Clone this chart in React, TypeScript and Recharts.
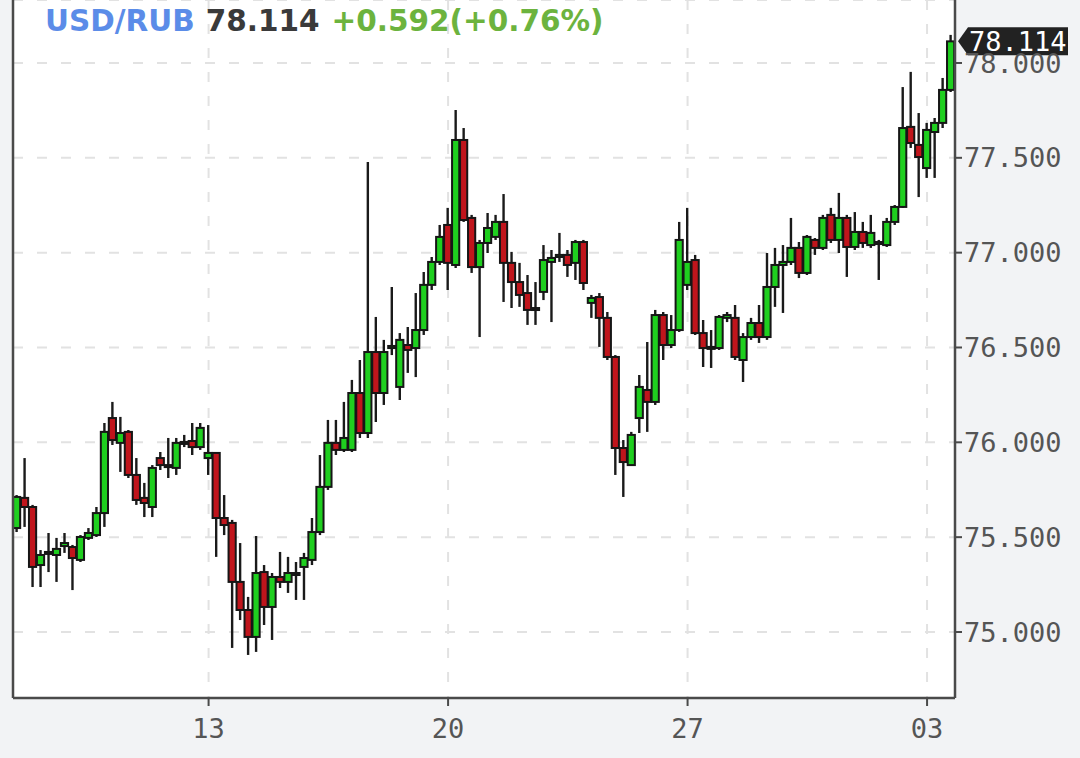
import { ComposedChart, Bar, XAxis, YAxis, CartesianGrid, ReferenceLine } from 'recharts';

// 4h candles, USD/RUB
const open = [
  75.548, 75.707, 75.659, 75.353, 75.417, 75.406, 75.453, 75.448, 75.380, 75.496,
  75.511, 75.627, 76.128, 75.997, 76.055, 75.828, 75.707, 75.659, 75.917, 75.880,
  75.865, 75.997, 76.007, 75.975, 75.917, 75.944, 75.601, 75.575, 75.264, 75.116,
  74.974, 75.316, 75.132, 75.290, 75.264, 75.306, 75.343, 75.380, 75.527, 75.765,
  75.997, 75.960, 75.960, 76.260, 76.049, 76.476, 76.260, 76.497, 76.292, 76.513,
  76.497, 76.592, 76.830, 76.951, 77.146, 76.935, 77.594, 77.183, 76.924, 77.051,
  77.083, 77.162, 76.946, 76.845, 76.787, 76.708, 76.793, 76.951, 76.977, 76.988,
  76.946, 77.056, 76.735, 76.766, 76.656, 76.450, 75.970, 75.880, 76.128, 76.276,
  76.213, 76.671, 76.513, 76.592, 76.830, 76.961, 76.576, 76.503, 76.497, 76.656,
  76.656, 76.434, 76.555, 76.629, 76.555, 76.819, 76.935, 76.951, 77.025, 76.893,
  77.067, 77.025, 77.199, 77.067, 77.183, 77.030, 77.109, 77.040, 77.051, 77.040,
  77.162, 77.241, 77.663, 77.568, 77.446, 77.636, 77.684, 77.858,
];
const high = [
  75.722, 75.917, 75.670, 75.432, 75.522, 75.496, 75.522, 75.459, 75.511, 75.548,
  75.659, 76.102, 76.213, 76.134, 76.065, 75.917, 75.786, 75.880, 75.949, 76.023,
  76.023, 76.039, 76.102, 76.102, 76.091, 75.949, 75.722, 75.591, 75.469, 75.185,
  75.506, 75.353, 75.311, 75.422, 75.396, 75.369, 75.417, 75.601, 75.933, 76.118,
  76.118, 76.213, 76.329, 76.434, 77.478, 76.661, 76.540, 76.819, 76.576, 76.608,
  76.787, 76.898, 76.977, 77.146, 77.236, 77.752, 77.657, 77.199, 77.067, 77.209,
  77.199, 77.309, 77.004, 76.946, 76.882, 76.845, 77.040, 77.014, 77.104, 77.014,
  77.067, 77.067, 76.777, 76.787, 76.687, 76.460, 76.012, 76.055, 76.355, 76.529,
  76.698, 76.687, 76.671, 77.162, 77.236, 76.988, 76.645, 76.592, 76.671, 76.687,
  76.724, 76.576, 76.656, 76.724, 76.998, 77.025, 77.040, 77.183, 77.056, 77.093,
  77.077, 77.199, 77.236, 77.315, 77.199, 77.214, 77.162, 77.199, 77.067, 77.183,
  77.251, 77.873, 77.953, 77.736, 77.684, 77.710, 77.921, 78.148,
];
const low = [
  75.527, 75.554, 75.237, 75.237, 75.316, 75.264, 75.417, 75.221, 75.369, 75.485,
  75.501, 75.554, 75.986, 75.844, 75.812, 75.670, 75.606, 75.606, 75.854, 75.812,
  75.828, 75.975, 75.933, 75.960, 75.828, 75.396, 75.511, 74.916, 75.063, 74.879,
  74.895, 75.037, 74.958, 75.232, 75.206, 75.169, 75.169, 75.353, 75.511, 75.749,
  75.933, 75.949, 75.949, 76.023, 76.023, 76.107, 76.197, 76.460, 76.223, 76.366,
  76.344, 76.566, 76.803, 76.935, 76.803, 76.919, 77.162, 76.893, 76.555, 76.998,
  77.067, 76.740, 76.708, 76.714, 76.619, 76.619, 76.750, 76.634, 76.951, 76.872,
  76.856, 76.803, 76.656, 76.503, 76.434, 75.828, 75.712, 75.880, 76.049, 76.055,
  76.197, 76.434, 76.497, 76.582, 76.803, 76.566, 76.397, 76.392, 76.487, 76.634,
  76.434, 76.318, 76.540, 76.524, 76.540, 76.714, 76.682, 76.935, 76.866, 76.882,
  76.988, 77.014, 77.051, 76.998, 76.872, 77.014, 77.025, 77.025, 76.856, 77.030,
  77.146, 77.236, 77.552, 77.293, 77.394, 77.394, 77.657, 77.847,
];
const close = [
  75.712, 75.659, 75.343, 75.406, 75.422, 75.438, 75.469, 75.390, 75.501, 75.522,
  75.627, 76.055, 76.012, 76.049, 75.828, 75.696, 75.680, 75.865, 75.880, 75.870,
  75.997, 76.002, 75.975, 76.076, 75.944, 75.601, 75.564, 75.264, 75.116, 74.974,
  75.311, 75.132, 75.290, 75.264, 75.311, 75.311, 75.390, 75.527, 75.765, 75.997,
  75.960, 76.023, 76.260, 76.049, 76.476, 76.260, 76.476, 76.508, 76.540, 76.487,
  76.592, 76.830, 76.951, 77.083, 76.946, 77.594, 77.172, 76.924, 77.051, 77.130,
  77.162, 76.946, 76.845, 76.777, 76.698, 76.703, 76.961, 76.972, 76.988, 76.935,
  77.056, 76.840, 76.761, 76.656, 76.450, 75.970, 75.896, 76.039, 76.292, 76.213,
  76.671, 76.513, 76.592, 77.067, 76.951, 76.576, 76.497, 76.497, 76.661, 76.671,
  76.450, 76.555, 76.629, 76.555, 76.819, 76.935, 76.951, 77.025, 76.893, 77.083,
  77.025, 77.183, 77.067, 77.183, 77.030, 77.109, 77.051, 77.104, 77.056, 77.162,
  77.241, 77.657, 77.578, 77.504, 77.647, 77.684, 77.858, 78.114,
];

const dayTicks = [24, 54, 84, 114];
const dayLabels = ['13', '20', '27', '03'];
const priceTicks = [75, 75.5, 76, 76.5, 77, 77.5, 78];

const data = open.map((o, i) => ({
  i,
  o,
  h: high[i],
  l: low[i],
  c: close[i],
  range: [low[i], high[i]],
}));

const last = close[close.length - 1];
const MONO = '"DejaVu Sans Mono", monospace';
const AXIS = '#4a4a4a';

function Candle(props: any) {
  const { x, y, width, height, payload } = props;
  if (!payload) return null;
  const top = Math.min(y, y + height);
  const hh = Math.abs(height);
  const span = payload.h - payload.l || 1;
  const py = (v: number) => top + ((payload.h - v) / span) * hh;
  const cx = x + width / 2;
  const yo = py(payload.o);
  const yc = py(payload.c);
  const bt = Math.min(yo, yc);
  const bh = Math.max(Math.abs(yo - yc), 2);
  const up = payload.c >= payload.o;
  return (
    <g>
      <line x1={cx} x2={cx} y1={top} y2={top + hh} stroke="#1a1a1a" strokeWidth={2.4} />
      <rect
        x={x}
        y={bt}
        width={width}
        height={bh}
        fill={up ? '#1fcf1f' : '#c0151c'}
        stroke="#161616"
        strokeWidth={2}
      />
    </g>
  );
}

function PriceTag(props: any) {
  const vb = props.viewBox;
  if (!vb) return null;
  const x0 = vb.x + vb.width + 3;
  const cy = vb.y;
  return (
    <g>
      <polygon
        points={`${x0},${cy} ${x0 + 10},${cy - 14} ${x0 + 110},${cy - 14} ${x0 + 110},${cy + 14} ${x0 + 10},${cy + 14}`}
        fill="#222"
      />
      <text x={x0 + 11} y={cy + 10} fill="#fff" fontFamily={MONO} fontSize={27}>
        {last.toFixed(3)}
      </text>
    </g>
  );
}

export default function App() {
  return (
    <div
      style={{
        position: 'absolute',
        left: 0,
        top: 0,
        width: 1080,
        height: 758,
        background: '#f2f3f5',
        overflow: 'hidden',
      }}
    >
      <ComposedChart width={1080} height={758} data={data} margin={{ top: 0, right: 0, bottom: 0, left: 12 }}>
        <CartesianGrid
          yAxisId="r"
          fill="#fff"
          stroke="#e2e2e2"
          strokeWidth={2}
          strokeDasharray="10 14"
        />
        <XAxis
          dataKey="i"
          type="category"
          ticks={dayTicks}
          interval={0}
          height={60}
          tickFormatter={(v: number) => dayLabels[dayTicks.indexOf(v)] ?? ''}
          axisLine={{ stroke: AXIS, strokeWidth: 2.5 }}
          tickLine={{ stroke: AXIS, strokeWidth: 2 }}
          tickSize={8}
          tickMargin={13}
          tick={{ fontFamily: MONO, fontSize: 27, fill: '#555' }}
        />
        <YAxis
          yAxisId="l"
          orientation="left"
          width={1}
          domain={[74.652, 78.332]}
          allowDataOverflow
          tick={false}
          tickLine={false}
          axisLine={{ stroke: AXIS, strokeWidth: 2.5 }}
        />
        <YAxis
          yAxisId="r"
          orientation="right"
          width={125}
          type="number"
          domain={[74.652, 78.332]}
          allowDataOverflow
          ticks={priceTicks}
          interval={0}
          tickFormatter={(v: number) => v.toFixed(3)}
          axisLine={{ stroke: AXIS, strokeWidth: 2.5 }}
          tickLine={{ stroke: AXIS, strokeWidth: 2 }}
          tickSize={7}
          tickMargin={2}
          tick={{ fontFamily: MONO, fontSize: 27, fill: '#555' }}
        />
        <Bar yAxisId="r" dataKey="range" barSize={8} shape={Candle} isAnimationActive={false} />
        <ReferenceLine yAxisId="r" y={last} stroke="none" label={(p: any) => <PriceTag {...p} />} />
      </ComposedChart>
      <svg width={700} height={45} style={{ position: 'absolute', left: 0, top: 0, pointerEvents: 'none' }}>
        <text x={45} y={31} fontFamily='"DejaVu Sans", sans-serif' fontWeight="bold" fontSize={29.5}>
          <tspan fill="#5b8ce8">USD/RUB</tspan>
          <tspan fill="#3a3a3a" dx={11}>78.114</tspan>
          <tspan fill="#6cb33e" dx={12}>+0.592(+0.76%)</tspan>
        </text>
      </svg>
    </div>
  );
}
